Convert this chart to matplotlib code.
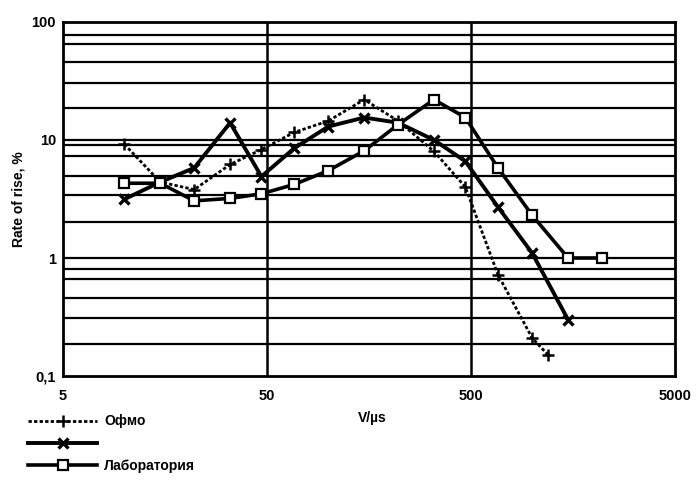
import numpy as np
import matplotlib
matplotlib.use('Agg')
import matplotlib.pyplot as plt
from matplotlib.ticker import FixedLocator, FixedFormatter, NullLocator

plt.rcParams['font.family'] = ['Liberation Sans', 'DejaVu Sans']
plt.rcParams['font.weight'] = 'bold'
plt.rcParams['axes.labelweight'] = 'bold'

# Data (V/us against rate of rise, %)
x_ofmo = [10, 15, 22, 33, 47, 68, 100, 150, 220, 330, 470, 680, 1000, 1200]
y_ofmo = [9.2, 4.4, 3.8, 6.2, 8.3, 11.6, 14.5, 22, 14.5, 8, 4, 0.72, 0.21, 0.15]

x_second = [10, 15, 22, 33, 47, 68, 100, 150, 220, 330, 470, 680, 1000, 1500]
y_second = [3.15, 4.4, 5.8, 14, 4.9, 8.5, 13, 15.5, 14, 10, 6.6, 2.7, 1.1, 0.3]

x_lab = [10, 15, 22, 33, 47, 68, 100, 150, 220, 330, 470, 680, 1000, 1500, 2200]
y_lab = [4.3, 4.3, 3.05, 3.2, 3.5, 4.2, 5.5, 8.1, 13.5, 22, 15.5, 5.8, 2.3, 1.0, 1.0]

labels = ['Офмо', ' ', 'Лаборатория']
x_ticks = [5, 50, 500, 5000]
x_ticklabels = ['5', '50', '500', '5000']
y_ticks = [0.1, 1, 10, 100]
y_ticklabels = ['0,1', '1', '10', '100']
# horizontal grid as printed in the source
y_grid = [0.185, 0.31, 0.46, 0.66, 0.8, 1,
          2, 3.4, 5, 7.3, 9, 10,
          18.8, 30.5, 46, 65, 78]

fig = plt.figure(figsize=(6.97, 4.83), dpi=100)
ax = fig.add_axes([0.0904, 0.2215, 0.8776, 0.733])
ax.set_xscale('log')
ax.set_yscale('log')
ax.set_xlim(5, 5000)
ax.set_ylim(0.1, 100)

# grid lines
for v in y_grid:
    ax.axhline(v, color='black', lw=1.6, zorder=1)
for v in [50, 500]:
    ax.axvline(v, color='black', lw=1.8, zorder=1)

l1, = ax.plot(x_ofmo, y_ofmo, color='black', ls=(0, (1.2, 0.8)), lw=2,
              marker='+', ms=9, mew=1.8, zorder=3)
l2, = ax.plot(x_second, y_second, color='black', ls='-', lw=2.8,
              marker='x', ms=7, mew=2.4, zorder=4)
l3, = ax.plot(x_lab, y_lab, color='black', ls='-', lw=2.6,
              marker='s', ms=7, mfc='white', mec='black', mew=1.6, zorder=5)

ax.xaxis.set_major_locator(FixedLocator(x_ticks))
ax.xaxis.set_major_formatter(FixedFormatter(x_ticklabels))
ax.xaxis.set_minor_locator(NullLocator())
ax.yaxis.set_major_locator(FixedLocator(y_ticks))
ax.yaxis.set_major_formatter(FixedFormatter(y_ticklabels))
ax.yaxis.set_minor_locator(NullLocator())
ax.tick_params(axis='both', length=0, labelsize=10.5)
ax.tick_params(axis='x', pad=9)
ax.tick_params(axis='y', pad=5)
for s in ax.spines.values():
    s.set_linewidth(2)

ax.set_xlabel('V/µs', fontsize=10)
ax.xaxis.set_label_coords(0.505, -0.1)
ax.set_ylabel('Rate of rise, %', fontsize=10)
ax.yaxis.set_label_coords(-0.062, 0.5)

fig.legend([l1, l2, l3], labels, loc='upper left',
           bbox_to_anchor=(0.04, 0.142), frameon=False, fontsize=10,
           handlelength=5, handletextpad=0.5, labelspacing=0.6,
           borderpad=0, borderaxespad=0)

plt.savefig('out.png', dpi=100)
plt.close()
